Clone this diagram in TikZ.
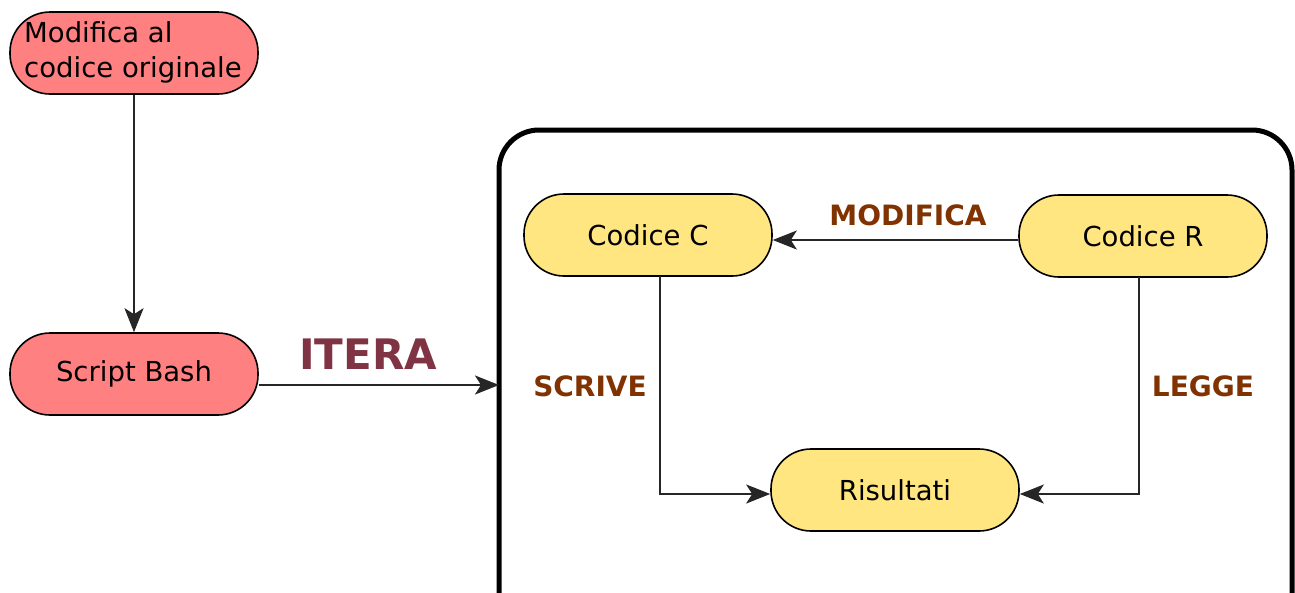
\documentclass[tikz,border=0pt]{standalone}
\usepackage{fontspec}
\setmainfont{DejaVu Sans}
\usetikzlibrary{arrows.meta}
\definecolor{redfill}{HTML}{FF8080}
\definecolor{yelfill}{HTML}{FFE680}
\definecolor{brownlab}{HTML}{803300}
\definecolor{iteracol}{HTML}{7F3343}
\begin{document}
\begin{tikzpicture}[x=1pt,y=-1pt,
  pill/.style={draw=black,line width=1.6pt,rounded corners=40pt,minimum width=248pt,minimum height=82pt,inner sep=0pt,font=\fontsize{27.5}{35}\selectfont},
  redpill/.style={pill,fill=redfill},
  yelpill/.style={pill,fill=yelfill},
  conn/.style={draw=black!85,line width=2.2pt,-{Stealth[length=24pt,width=19pt,inset=6pt]}},
  lab/.style={font=\bfseries\fontsize{28}{32}\selectfont,text=brownlab}
]
\useasboundingbox (0,0) rectangle (1295,592);
\draw[line width=5pt,rounded corners=40pt] (499,130) -- (1292,130) -- (1292,640) -- (499,640) -- cycle;
\node[redpill] (mod) at (134,53) {};
\node[anchor=west,align=left,inner sep=0pt,font=\fontsize{27.5}{35}\selectfont] (modt) at (24,52) {Modifica al\\codice originale};
\node[redpill] (bash) at (134,374) {Script Bash};
\node[yelpill] (cc) at (648,235) {Codice C};
\node[yelpill] (cr) at (1143,236) {Codice R};
\node[yelpill] (ris) at (895,490) {Risultati};
\coordinate (boxin) at (499,385);
\draw[conn] (mod.south) -- (bash.north);
\draw[conn] (bash.east |- boxin) -- (boxin);
\draw[conn] (cr.west |- 0,240) -- (cc.east |- 0,240);
\draw[conn] (660,276) |- (ris.west |- 0,494);
\draw[conn] (1139,277) |- (ris.east |- 0,494);
\node[font=\bfseries\fontsize{42}{46}\selectfont,text=iteracol] (itera) at (368,354) {ITERA};
\node[lab] (lmod) at (908,215) {MODIFICA};
\node[lab] (lscr) at (590,386) {SCRIVE};
\node[lab] (lleg) at (1203,386) {LEGGE};
\end{tikzpicture}
\end{document}
